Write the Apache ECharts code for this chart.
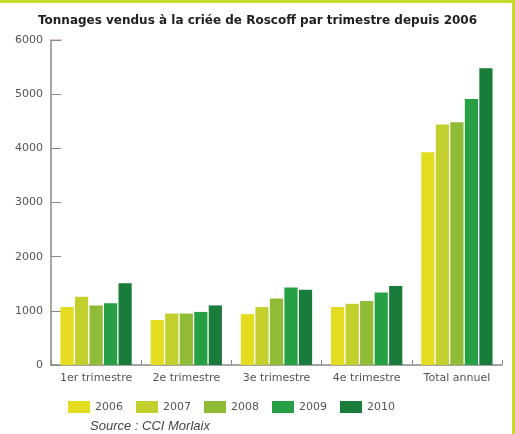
<!DOCTYPE html>
<html>
<head>
<meta charset="utf-8">
<script src="https://cdn.jsdelivr.net/npm/echarts@6/dist/echarts.min.js"></script>
<style>
  html, body { margin: 0; padding: 0; background: #fff; }
  #chart { width: 515px; height: 434px; }
</style>
</head>
<body>
<div id="chart"></div>
<script>
// trimestres
const categories = ['1er trimestre', '2e trimestre', '3e trimestre', '4e trimestre', 'Total annuel'];
const years = ['2006', '2007', '2008', '2009', '2010'];
const colors = ['#e4dc1f', '#c3cf2d', '#8fbb36', '#27a045', '#1a7c3b'];

// tonnages
const t2006 = [1070, 830, 940, 1070, 3930];
const t2007 = [1260, 950, 1070, 1130, 4440];
const t2008 = [1100, 950, 1230, 1180, 4480];
const t2009 = [1140, 980, 1430, 1340, 4910];
const t2010 = [1510, 1100, 1390, 1460, 5480];
const seriesValues = [t2006, t2007, t2008, t2009, t2010];

const myChart = echarts.init(document.getElementById('chart'));

const option = {
  animation: false,
  title: {
    text: 'Tonnages vendus à la criée de Roscoff par trimestre depuis 2006',
    left: 'center',
    top: 10,
    textStyle: { fontFamily: 'DejaVu Sans', fontSize: 12, fontWeight: 'bold', color: '#222' }
  },
  legend: {
    bottom: 16,
    left: 63,
    itemWidth: 22,
    itemHeight: 12,
    itemGap: 13,
    icon: 'rect',
    textStyle: { fontFamily: 'DejaVu Sans', fontSize: 11, color: '#555' },
    data: years
  },
  grid: { left: 51, right: 13, top: 40, bottom: 69 },
  xAxis: {
    type: 'category',
    data: categories,
    axisLine: { lineStyle: { color: '#888', width: 1.5 } },
    axisTick: { show: true, inside: true, length: 5, lineStyle: { color: '#888' } },
    axisLabel: { fontFamily: 'DejaVu Sans', fontSize: 11, color: '#555', margin: 8, interval: 0 }
  },
  yAxis: {
    type: 'value',
    min: 0,
    max: 6000,
    interval: 1000,
    axisLine: { show: true, lineStyle: { color: '#888', width: 1.5 } },
    axisTick: { show: true, inside: true, length: 10, lineStyle: { color: '#888' } },
    axisLabel: {
      fontFamily: 'DejaVu Sans', fontSize: 11, color: '#555', margin: 8,
      formatter: v => String(v)
    },
    splitLine: { show: false }
  },
  series: years.map((y, i) => ({
    name: y,
    type: 'bar',
    data: seriesValues[i],
    itemStyle: { color: colors[i] },
    barGap: '10%',
    barCategoryGap: '21%'
  })),
  graphic: [
    { type: 'rect', shape: { x: 0, y: 0, width: 515, height: 3 }, style: { fill: '#c6da30' } },
    { type: 'rect', shape: { x: 512, y: 0, width: 3, height: 434 }, style: { fill: '#c6da30' } },
    { type: 'line', shape: { x1: 52, y1: 40, x2: 62, y2: 40 }, style: { stroke: '#d58ad0', lineWidth: 1 } },
    {
      type: 'text', left: 90, top: 420,
      style: { text: 'Source : CCI Morlaix', fontFamily: 'Liberation Sans', fontStyle: 'italic', fontSize: 13, fill: '#444' }
    }
  ]
};

myChart.setOption(option);
</script>
</body>
</html>
